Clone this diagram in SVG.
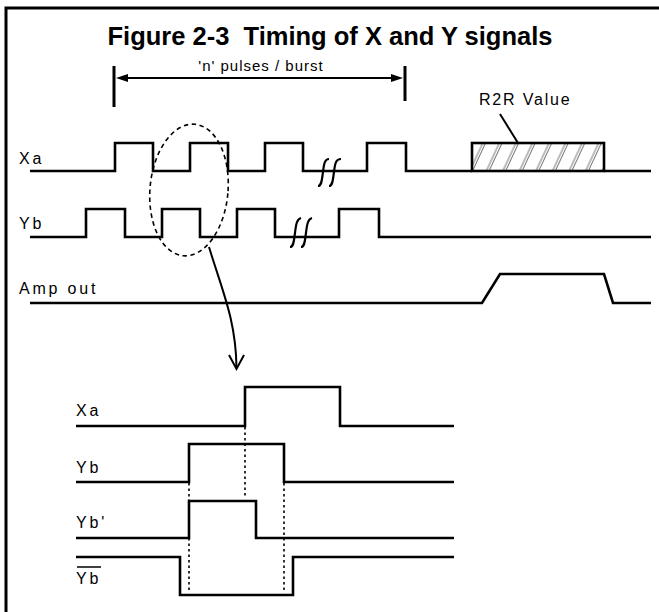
<svg xmlns="http://www.w3.org/2000/svg" width="659" height="612" viewBox="0 0 659 612">
<defs>
<style>
.sig{fill:none;stroke:#000;stroke-width:2.6;stroke-linejoin:miter;stroke-linecap:butt}
.lbl{font-family:"Liberation Sans",Arial,sans-serif;font-size:16px;letter-spacing:2.8px;fill:#000}
.ttl{font-family:"Liberation Sans",Arial,sans-serif;font-size:25.5px;font-weight:bold;fill:#000;white-space:pre}
.thin{fill:none;stroke:#000;stroke-width:2}
.dot{fill:none;stroke:#000;stroke-width:1.6;stroke-dasharray:2.5 3}
.brk{fill:none;stroke:#000;stroke-width:2.2}
</style>
<pattern id="hatch" patternUnits="userSpaceOnUse" width="15" height="15" patternTransform="rotate(25)">
<line x1="3" y1="0" x2="3" y2="15" stroke="#777" stroke-width="1"/>
<line x1="5.5" y1="0" x2="5.5" y2="15" stroke="#777" stroke-width="1"/>
</pattern>
</defs>
<rect width="659" height="612" fill="#fff"/>
<g id="frame">
<path d="M6,612 V8 H659" fill="none" stroke="#000" stroke-width="3"/>
</g>
<g id="title">
<text class="ttl" x="330" y="45" text-anchor="middle" xml:space="preserve">Figure 2-3  Timing of X and Y signals</text>
</g>
<g id="burst-label">
<text class="lbl" x="261" y="71" text-anchor="middle" style="font-size:15px;letter-spacing:1px">'n' pulses / burst</text>
<line x1="114" y1="66" x2="114" y2="107" stroke="#000" stroke-width="3"/>
<line x1="405" y1="66" x2="405" y2="101" stroke="#000" stroke-width="3"/>
</g>
<g id="xa-top">
<text class="lbl" x="19" y="164">Xa</text>
<path class="sig" d="M30,171 H115 V143 H153 V171 H190 V143 H228 V171 H265 V143 H303 V171 H367 V143 H406 V171 H472 M604,171 H651"/>
<path class="brk" d="M318,186 C322,186 322,178 323,172 C324,163 325,159 329,159"/>
<path class="brk" d="M329,186 C333,186 333,178 334,172 C335,163 336,159 341,159"/>
</g>
<g id="r2r">
<rect x="472" y="143" width="132" height="28" fill="url(#hatch)" stroke="#000" stroke-width="2.6"/>
<text class="lbl" x="479" y="105" style="letter-spacing:1.8px">R2R Value</text>
</g>
<g id="yb-top">
<text class="lbl" x="19" y="229">Yb</text>
<path class="sig" d="M30,237 H86 V209 H125 V237 H162 V209 H200 V237 H237 V209 H275 V237 H339 V209 H379 V237 H651"/>
<path class="brk" d="M290,247 C294,247 294,239 295,233 C296,224 297,219 301,218"/>
<path class="brk" d="M301,247 C305,247 305,239 306,233 C307,224 308,219 312,218"/>
</g>
<g id="amp-out">
<text class="lbl" x="19" y="294">Amp out</text>
<path class="sig" d="M30,303 H482 L500,274 H604 L613,303 H651"/>
</g>
<g id="zoom-ellipse">
<ellipse cx="189" cy="190" rx="39" ry="66" transform="rotate(5 189 190)" fill="none" stroke="#000" stroke-width="1.6" stroke-dasharray="4.5 3.5"/>
</g>
<g id="xa-detail">
<text class="lbl" x="76" y="416">Xa</text>
<path class="sig" d="M76,426 H245 V387 H340 V426 H454"/>
</g>
<g id="yb-detail">
<text class="lbl" x="76" y="473">Yb</text>
<path class="sig" d="M76,482 H189 V444 H284 V482 H454"/>
</g>
<g id="ybp-detail">
<text class="lbl" x="76" y="528">Yb'</text>
<path class="sig" d="M76,538 H189 V501 H256 V538 H454"/>
</g>
<g id="ybar-detail">
<text class="lbl" x="76" y="584">Yb</text>
<line x1="77" y1="567" x2="101" y2="567" stroke="#000" stroke-width="1.5"/>
<path class="sig" d="M76,557 H180 V595 H293 V557 H454"/>
</g>
<g id="connectors">
<line x1="120" y1="78" x2="399" y2="78" stroke="#000" stroke-width="2"/>
<path d="M128,74 L116,78 L128,82 Z" fill="#000"/>
<path d="M391,74 L403,78 L391,82 Z" fill="#000"/>
<line x1="500" y1="114" x2="518" y2="143" class="thin"/>
<path class="thin" d="M209,247 C222,290 236,320 236.5,368"/>
<path class="thin" d="M229,355 L236.5,369 L244,355"/>
<line class="dot" x1="245" y1="427" x2="245" y2="497"/>
<line class="dot" x1="189" y1="483" x2="189" y2="593"/>
<line class="dot" x1="284" y1="483" x2="284" y2="593"/>
</g>
</svg>
